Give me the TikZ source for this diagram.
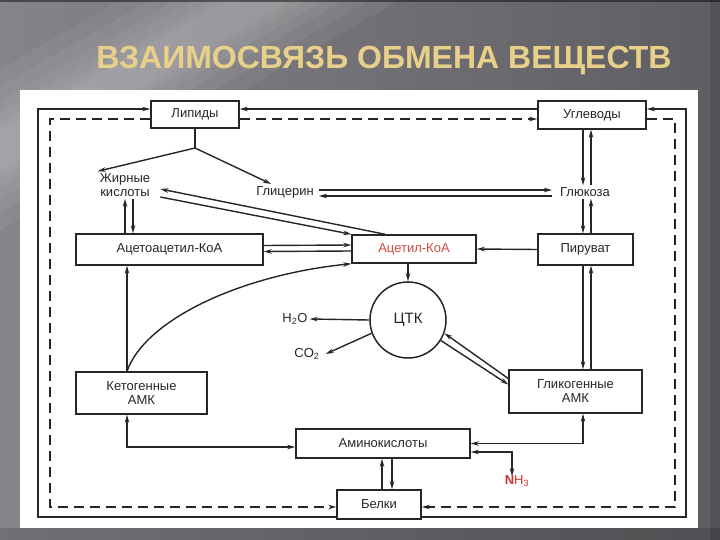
\documentclass[tikz,border=0pt]{standalone}
\usepackage{fontspec}
\setmainfont{Liberation Sans}
\usetikzlibrary{arrows.meta}
\definecolor{inkc}{HTML}{262626}
\definecolor{titlec}{HTML}{E8D08A}
\definecolor{acoac}{HTML}{D24A44}
\definecolor{nhc}{HTML}{D2332B}
\definecolor{bgA}{HTML}{86848A}
\definecolor{bgB}{HTML}{716F74}
\definecolor{bgC}{HTML}{5E5D61}

\begin{document}
\begin{tikzpicture}
  [x=1pt,y=-1pt,
   every node/.style={font=\fontsize{13}{14}\selectfont,text=inkc,inner sep=2pt},
   box/.style={draw=inkc,line width=1.5pt,fill=white,align=center},
   lbl/.style={align=center},
   lnk/.style={draw=inkc,line width=1.4pt},
   arr/.style={lnk,-{Stealth[length=8pt,width=4.5pt]}},
   arrb/.style={lnk,{Stealth[length=8pt,width=4.5pt]}-{Stealth[length=8pt,width=4.5pt]}},
   dsh/.style={arr,dash pattern=on 10pt off 6pt}]

  % background and panel
  \useasboundingbox (0,0) rectangle (720,540);
  \shade[left color=bgA,middle color=bgB,right color=bgC] (0,0) rectangle (720,540);
  \begin{scope}
    \clip (0,0) rectangle (720,540);
    \foreach \a/\b in {120/400,150/370,175/345,195/325,212/308,226/294}
      \fill[white,opacity=.05] (\a,0) -- (\b,0) -- (\b-520,300) -- (\a-520,300) -- cycle;
  \end{scope}
  \fill[black,opacity=.45] (0,0) rectangle (720,2);
  \fill[black,opacity=.12] (710,0) rectangle (720,540);
  \fill[black,opacity=.15] (0,528) rectangle (720,540);
  \fill[white] (20,90) rectangle (698,528);

  \node[text=titlec,font=\fontsize{32}{36}\selectfont\bfseries] (title) at (384,61) {ВЗАИМОСВЯЗЬ ОБМЕНА ВЕЩЕСТВ};

  % nodes
  \node[box,minimum width=88pt,minimum height=27pt] (lip) at (195,114.5) {Липиды};
  \node[box,minimum width=108pt,minimum height=28pt] (ugl) at (592,115) {Углеводы};
  \node[lbl] (fa) at (125,185) {Жирные\\кислоты};
  \node (gly) at (285,192) {Глицерин};
  \node (glu) at (585,192) {Глюкоза};
  \node[box,minimum width=187pt,minimum height=31pt] (aac) at (169.5,249.5) {Ацетоацетил-КоА};
  \node[box,minimum width=124pt,minimum height=28pt,text=acoac] (acoa) at (414,249) {Ацетил-КоА};
  \node[box,minimum width=95pt,minimum height=31pt] (pyr) at (585.5,249.5) {Пируват};
  \node[circle,draw=inkc,line width=1.5pt,minimum size=76pt,font=\fontsize{15}{17}\selectfont] (tca) at (408,320) {ЦТК};
  \node (h2o) at (295,319) {H\textsubscript{2}O};
  \node (co2) at (307,354) {CO\textsubscript{2}};
  \node[box,minimum width=131pt,minimum height=42pt] (keto) at (141.5,393) {Кетогенные\\АМК};
  \node[box,minimum width=133pt,minimum height=43pt] (glyc) at (575.5,391.5) {Гликогенные\\АМК};
  \node[box,minimum width=174pt,minimum height=29pt] (amk) at (383,443.5) {Аминокислоты};
  \node[box,minimum width=84pt,minimum height=29pt] (prot) at (379,504.5) {Белки};
  \node[text=nhc] (nh3) at (517,481) {\textbf{N}H\textsubscript{3}};

  \coordinate (lsplit) at (195,148);
  \coordinate (cA) at (125,0);
  \coordinate (cB) at (133,0);
  \coordinate (cK) at (127,0);
  \coordinate (cL) at (583,0);
  \coordinate (cR) at (591,0);
  \coordinate (cP) at (382,0);
  \coordinate (cQ) at (392,0);

  % outer loops
  \draw[arr] ([yshift=-12.5pt]prot.west) -| (38,109) -- ([yshift=5.5pt]lip.west);
  \draw[arr] ([yshift=-12.5pt]prot.east) -| (686,109) -- ([yshift=6pt]ugl.east);
  \draw[arr] ([yshift=6pt]ugl.west) -- ([yshift=5.5pt]lip.east);
  \draw[dsh] ([yshift=-4.5pt]lip.west) -| (50,507) -- ([yshift=-2.5pt]prot.west);
  \draw[dsh] ([yshift=-4.5pt]lip.east) -- ([yshift=-4pt]ugl.west);
  \draw[dsh] ([yshift=-4pt]ugl.east) -| (675,507) -- ([yshift=-2.5pt]prot.east);

  % lipids
  \draw[lnk] (lip.south) -- (lsplit);
  \foreach \from/\to in {lsplit/fa.north west,lsplit/gly.150,pyr.west/acoa.east,tca.west/h2o.east}
    \draw[arr] (\from) -- (\to);
  \draw[arr] (aac.north -| cA) -- (fa.south -| cA);
  \draw[arr] (fa.south -| cB) -- (aac.north -| cB);
  \draw[arr] ([xshift=-29pt]acoa.north) -- ([xshift=8pt,yshift=-4pt]fa.east);
  \draw[arr] ([xshift=8pt,yshift=-12pt]fa.east) -- (acoa.north west);
  \draw[arr] ([xshift=3pt,yshift=2pt]gly.east) -- ([xshift=-6pt,yshift=2pt]glu.west);
  \draw[arr] ([xshift=-6pt,yshift=-4pt]glu.west) -- ([xshift=3pt,yshift=-4pt]gly.east);
  \draw[arr] ([yshift=4pt]aac.east) -- ([yshift=4pt]acoa.west);
  \draw[arr] ([yshift=-2pt]acoa.west) -- ([yshift=-2pt]aac.east);

  % carbohydrates
  \draw[arr] (ugl.south -| cL) -- (glu.north -| cL);
  \draw[arr] (glu.north -| cR) -- (ugl.south -| cR);
  \draw[arr] (glu.south -| cL) -- (pyr.north -| cL);
  \draw[arr] (pyr.north -| cR) -- (glu.south -| cR);
  \draw[arr] (pyr.south -| cL) -- (glyc.north -| cL);
  \draw[arr] (glyc.north -| cR) -- (pyr.south -| cR);

  % TCA
  \draw[arr] (acoa.south -| tca.north) -- (tca.north);
  \draw[arr] (tca.200) -- ([xshift=4pt]co2.east);
  \draw[arr] ([yshift=13pt]glyc.west) -- (tca.-20);
  \draw[arr] (tca.-32) -- ([yshift=7pt]glyc.west);

  % amino acids
  \draw[arr] (keto.north -| cK) -- (aac.south -| cK);
  \draw[arr] (keto.north -| cK) .. controls (145,320) and (240,275) .. (acoa.south west);
  \draw[arrb] (keto.south -| cK) |- ([yshift=-3.5pt]amk.west);
  \draw[arrb] (glyc.south -| cL) |- (amk.east);
  \draw[arrb] ([yshift=-8.5pt]amk.east) -| ([xshift=-5pt,yshift=-3pt]nh3.north);
  \draw[arr] (prot.north -| cP) -- (amk.south -| cP);
  \draw[arr] (amk.south -| cQ) -- (prot.north -| cQ);
\end{tikzpicture}
\end{document}
